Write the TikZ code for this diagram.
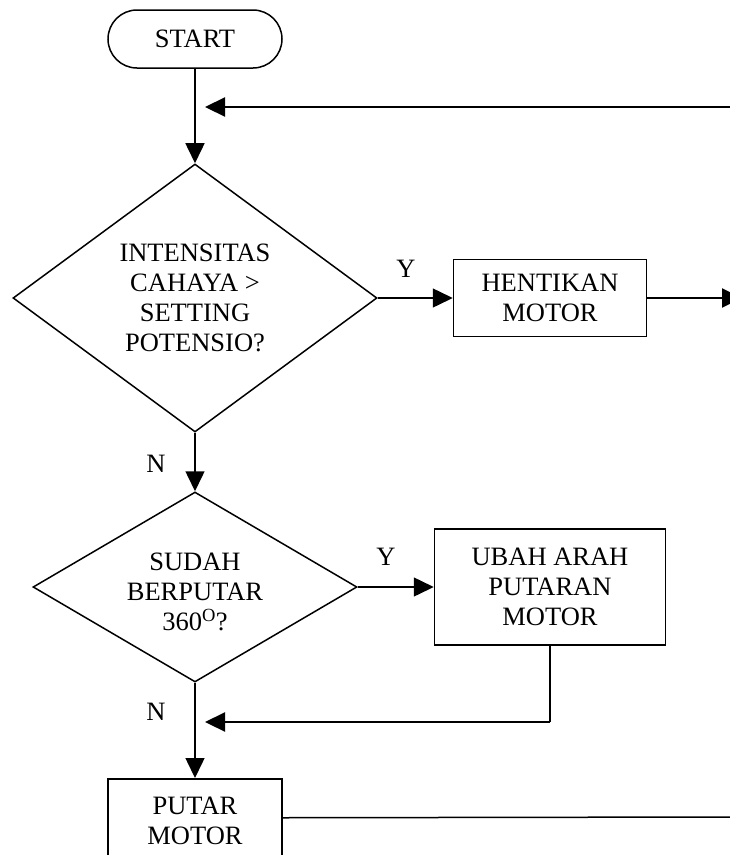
\documentclass[tikz,border=0pt]{standalone}
\usepackage{fontspec}
\setmainfont{Liberation Serif}
\usetikzlibrary{arrows.meta,shapes.geometric}
\begin{document}
\begin{tikzpicture}[x=1pt,y=-1pt,line width=1.5pt,
  every node/.style={font=\fontsize{26.5}{30}\selectfont,align=center},
  box/.style={draw,inner sep=0pt},
  decision/.style={draw,diamond,inner sep=0pt},
  arr/.style={-{Triangle[length=20pt,width=19pt]}},
  thick line/.style={line width=2.2pt}]
\useasboundingbox (0,0) rectangle (730,855);
\node[box,rounded corners=29pt,minimum width=174pt,minimum height=58pt] (start) at (195,39) {START};
\node[decision,aspect=1.358,minimum width=364pt,minimum height=268pt] (d1) at (195,298) {INTENSITAS\\CAHAYA >\\SETTING\\POTENSIO?};
\node[box,minimum width=193pt,minimum height=77pt] (stop) at (550,298) {HENTIKAN\\MOTOR};
\node[decision,aspect=1.705,minimum width=324pt,minimum height=190pt,
  label={[name=d2text,yshift=-5pt]center:SUDAH\\BERPUTAR\\360\textsuperscript{O}?}] (d2) at (195,587) {};
\node[box,minimum width=231pt,minimum height=116pt] (rev) at (550,587) {UBAH ARAH\\PUTARAN\\MOTOR};
\node[box,minimum width=174pt,minimum height=84pt,anchor=north] (run) at (195,778) {PUTAR\\MOTOR};
\node (y1) at (406,269) {Y};
\node (n1) at (156,464) {N};
\node (y2) at (386,557) {Y};
\node (n2) at (156,712) {N};
\coordinate (fb1s) at (730,107);
\coordinate (fb1e) at (205,107);
\coordinate (out1) at (742,298);
\coordinate (corner) at (rev.south |- 0,722);
\coordinate (fb2e) at (205,722);
\coordinate (out2) at (731,817);
\draw[arr] (start) -- (d1);
\draw[arr,thick line] (fb1s) -- (fb1e);
\draw[arr] (d1.east) -- (stop.west);
\draw[arr,thick line] (stop.east) -- (out1);
\draw[arr] (d1.south) -- (d2.north);
\draw[arr] (d2.east) -- (rev.west);
\draw (rev.south) -- (corner);
\draw[arr,thick line] (corner) -- (fb2e);
\draw[arr] (d2.south) -- (run.north);
\draw ([yshift=3pt]run.east) -- (out2);
\end{tikzpicture}
\end{document}
